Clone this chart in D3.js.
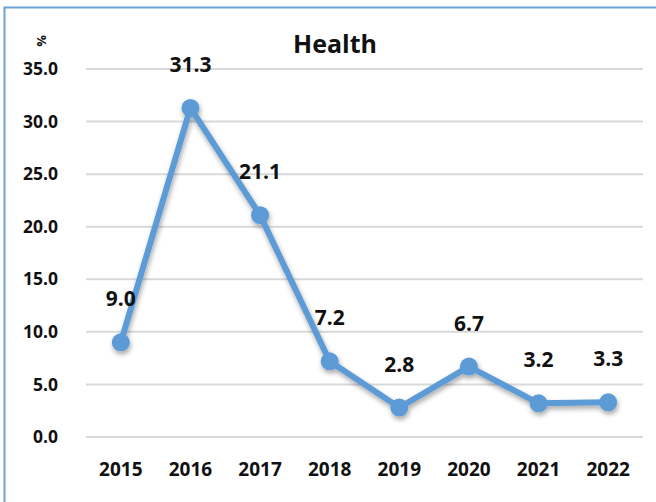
<!DOCTYPE html>
<html>
<head>
<meta charset="utf-8">
<script src="https://cdn.jsdelivr.net/npm/d3@7"></script>
<style>
  body { margin: 0; background: #fff; }
  text { font-family: "Open Sans", "Noto Sans", sans-serif; font-weight: bold; fill: #111; }
</style>
</head>
<body>
<div id="chart"></div>
<script>
// Data
var years = ["2015", "2016", "2017", "2018", "2019", "2020", "2021", "2022"];
var values = [9.0, 31.3, 21.1, 7.2, 2.8, 6.7, 3.2, 3.3];
var yTicks = [0, 5, 10, 15, 20, 25, 30, 35];

var width = 656, height = 502;
var margin = { top: 69, right: 13, bottom: 65, left: 86 };

var svg = d3.select("#chart")
    .append("svg")
    .attr("width", width)
    .attr("height", height);

// shadow for the line + markers
var defs = svg.append("defs");
var f = defs.append("filter").attr("id", "shadow")
    .attr("x", "-20%").attr("y", "-20%").attr("width", "140%").attr("height", "140%");
f.append("feDropShadow")
    .attr("dx", 1).attr("dy", 3).attr("stdDeviation", 2.5)
    .attr("flood-color", "#000").attr("flood-opacity", 0.35);

// outer border (left and top only visible)
svg.append("path")
    .attr("d", "M4.5," + height + "V7.5H" + width)
    .attr("fill", "none")
    .attr("stroke", "#6d9fd8")
    .attr("stroke-width", 2);

var x = d3.scaleBand()
    .domain(years)
    .range([margin.left, width - margin.right]);

var y = d3.scaleLinear()
    .domain([0, 35])
    .range([height - margin.bottom, margin.top]);

// gridlines
svg.append("g")
    .selectAll("line")
    .data(yTicks)
    .enter()
    .append("line")
    .attr("x1", margin.left)
    .attr("x2", width - margin.right)
    .attr("y1", d => y(d))
    .attr("y2", d => y(d))
    .attr("stroke", "#d9d9d9")
    .attr("stroke-width", 2);

// y axis labels
var yAxis = svg.append("g")
    .attr("transform", "translate(" + (margin.left - 28) + ",0)")
    .call(d3.axisLeft(y).tickValues(yTicks).tickFormat(d3.format(".1f")).tickSize(0));
yAxis.select(".domain").remove();
yAxis.selectAll("text")
    .attr("x", 0)
    .style("font-size", "17.5px")
    .style("font-family", "'Open Sans', sans-serif")
    .style("font-weight", "bold")
    .attr("fill", "#111");

// x axis labels
var xAxis = svg.append("g")
    .attr("transform", "translate(0," + (height - margin.bottom + 22) + ")")
    .call(d3.axisBottom(x).tickSize(0));
xAxis.select(".domain").remove();
xAxis.selectAll("text")
    .style("font-size", "19px")
    .style("font-family", "'Open Sans', sans-serif")
    .style("font-weight", "bold")
    .attr("fill", "#111");

// % unit
svg.append("text")
    .attr("transform", "translate(46,41) rotate(-90)")
    .attr("text-anchor", "middle")
    .style("font-size", "13px")
    .text("%");

// title
svg.append("text")
    .attr("x", 335)
    .attr("y", 53)
    .attr("text-anchor", "middle")
    .style("font-size", "25px")
    .text("Health");

// line + markers
var line = d3.line()
    .x((d, i) => x(years[i]) + x.bandwidth() / 2)
    .y(d => y(d));

var series = svg.append("g").attr("filter", "url(#shadow)");

series.append("path")
    .datum(values)
    .attr("d", line)
    .attr("fill", "none")
    .attr("stroke", "#5b9bd5")
    .attr("stroke-width", 6)
    .attr("stroke-linejoin", "round");

series.selectAll("circle")
    .data(values)
    .enter()
    .append("circle")
    .attr("cx", (d, i) => x(years[i]) + x.bandwidth() / 2)
    .attr("cy", d => y(d))
    .attr("r", 9)
    .attr("fill", "#5b9bd5");

// value labels
svg.append("g")
    .selectAll("text")
    .data(values)
    .enter()
    .append("text")
    .attr("x", (d, i) => x(years[i]) + x.bandwidth() / 2)
    .attr("y", d => y(d) - 36)
    .attr("text-anchor", "middle")
    .style("font-size", "21px")
    .text(d => d3.format(".1f")(d));
</script>
</body>
</html>
